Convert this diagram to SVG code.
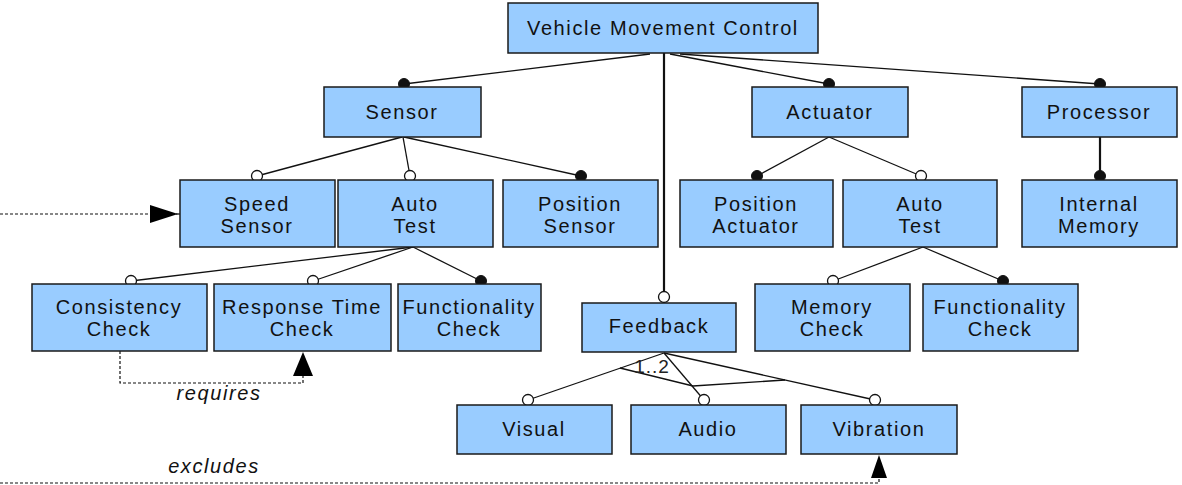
<svg xmlns="http://www.w3.org/2000/svg" width="1182" height="485" viewBox="0 0 1182 485">
<style>
.box{fill:#99ccff;stroke:#1a1a1a;stroke-width:1.5}
.t{font-family:"Liberation Sans",Arial,sans-serif;font-size:20px;letter-spacing:1.6px;fill:#111;text-anchor:middle}
.ln{stroke:#111;stroke-width:1.3;fill:none}
.thick{stroke:#111;stroke-width:2.2;fill:none}
.dash{stroke:#111;stroke-width:1.2;fill:none;stroke-dasharray:3,2}
.open{fill:#fff;stroke:#111;stroke-width:1.3}
.fill{fill:#111;stroke:#111;stroke-width:1}
.lbl{font-family:"Liberation Sans",Arial,sans-serif;font-size:20px;font-style:italic;fill:#111;text-anchor:middle;letter-spacing:1.6px}
.card{font-family:"Liberation Sans",Arial,sans-serif;font-size:19px;fill:#222;text-anchor:middle;letter-spacing:1px}
</style>
<rect width="1182" height="485" fill="#fff"/>
<g id="connectors">
<line class="ln" x1="650" y1="54" x2="404" y2="84"/>
<line class="ln" x1="670" y1="54" x2="829" y2="84"/>
<line class="ln" x1="680" y1="54" x2="1100" y2="84"/>
<line class="thick" x1="664" y1="53" x2="664" y2="296"/>
<line class="ln" x1="402" y1="137" x2="257" y2="176"/>
<line class="ln" x1="403" y1="137" x2="410" y2="176"/>
<line class="ln" x1="404" y1="137" x2="581" y2="176"/>
<line class="ln" x1="413" y1="247" x2="131" y2="281"/>
<line class="ln" x1="413" y1="247" x2="313" y2="281"/>
<line class="ln" x1="413" y1="247" x2="481" y2="281"/>
<line class="ln" x1="829" y1="137" x2="757" y2="176"/>
<line class="ln" x1="829" y1="137" x2="921" y2="176"/>
<line class="thick" x1="1100" y1="137" x2="1100" y2="176"/>
<line class="ln" x1="923" y1="247" x2="833" y2="281"/>
<line class="ln" x1="923" y1="247" x2="1003" y2="281"/>
<line class="ln" x1="664" y1="353" x2="528" y2="400"/>
<line class="ln" x1="664" y1="353" x2="704" y2="400"/>
<line class="ln" x1="664" y1="353" x2="875" y2="400"/>
<polyline class="ln" points="620,368 693,386 785,380"/>
<text class="card" x="652" y="373">1..2</text>
<circle class="fill" cx="404" cy="84" r="5.5"/>
<circle class="fill" cx="829" cy="84" r="5.5"/>
<circle class="fill" cx="1100" cy="84" r="5.5"/>
<circle class="open" cx="664" cy="297" r="5.5"/>
<circle class="open" cx="257" cy="176" r="5.5"/>
<circle class="open" cx="410" cy="176" r="5.5"/>
<circle class="fill" cx="581" cy="176" r="5.5"/>
<circle class="open" cx="131" cy="281" r="5.5"/>
<circle class="open" cx="313" cy="281" r="5.5"/>
<circle class="fill" cx="481" cy="281" r="5.5"/>
<circle class="fill" cx="757" cy="176" r="5.5"/>
<circle class="open" cx="921" cy="176" r="5.5"/>
<circle class="fill" cx="1100" cy="176" r="5.5"/>
<circle class="open" cx="833" cy="281" r="5.5"/>
<circle class="fill" cx="1003" cy="281" r="5.5"/>
<circle class="open" cx="528" cy="400" r="5.5"/>
<circle class="open" cx="704" cy="400" r="5.5"/>
<circle class="open" cx="875" cy="400" r="5.5"/>
<path class="dash" d="M0,214 H152"/>
<line class="ln" x1="176" y1="214" x2="180" y2="214"/>
<polygon fill="#000" points="150,205 150,223 178,214"/>
<path class="dash" d="M120,351 V383 H303 V375"/>
<polygon fill="#000" points="303,352 293,376 313,376"/>
<text class="lbl" x="219" y="400">requires</text>
<path class="dash" d="M0,483 H879 V476"/>
<polygon fill="#000" points="879,455 871,478 887,478"/>
<text class="lbl" x="214" y="473">excludes</text>
</g>
<g id="vmc"><rect class="box" x="508" y="3" width="310" height="50"/><text class="t" x="663" y="35">Vehicle Movement Control</text></g>
<g id="sensor"><rect class="box" x="324" y="87" width="157" height="50"/><text class="t" x="402" y="119">Sensor</text></g>
<g id="actuator"><rect class="box" x="752" y="87" width="156" height="50"/><text class="t" x="830" y="119">Actuator</text></g>
<g id="processor"><rect class="box" x="1022" y="87" width="155" height="50"/><text class="t" x="1099" y="119">Processor</text></g>
<g id="speed-sensor"><rect class="box" x="180" y="180" width="155" height="67"/><text class="t" x="257" y="211">Speed</text><text class="t" x="257" y="233">Sensor</text></g>
<g id="auto-test-sensor"><rect class="box" x="338" y="180" width="155" height="67"/><text class="t" x="415" y="211">Auto</text><text class="t" x="415" y="233">Test</text></g>
<g id="position-sensor"><rect class="box" x="503" y="180" width="155" height="67"/><text class="t" x="580" y="211">Position</text><text class="t" x="580" y="233">Sensor</text></g>
<g id="position-actuator"><rect class="box" x="680" y="180" width="153" height="67"/><text class="t" x="756" y="211">Position</text><text class="t" x="756" y="233">Actuator</text></g>
<g id="auto-test-actuator"><rect class="box" x="843" y="180" width="154" height="67"/><text class="t" x="920" y="211">Auto</text><text class="t" x="920" y="233">Test</text></g>
<g id="internal-memory"><rect class="box" x="1022" y="180" width="155" height="67"/><text class="t" x="1099" y="211">Internal</text><text class="t" x="1099" y="233">Memory</text></g>
<g id="consistency-check"><rect class="box" x="32" y="284" width="175" height="67"/><text class="t" x="119" y="314">Consistency</text><text class="t" x="119" y="336">Check</text></g>
<g id="response-time-check"><rect class="box" x="214" y="284" width="177" height="67"/><text class="t" x="302" y="314">Response Time</text><text class="t" x="302" y="336">Check</text></g>
<g id="functionality-check-sensor"><rect class="box" x="398" y="284" width="143" height="67"/><text class="t" x="469" y="314">Functionality</text><text class="t" x="469" y="336">Check</text></g>
<g id="feedback"><rect class="box" x="582" y="303" width="154" height="49"/><text class="t" x="659" y="333">Feedback</text></g>
<g id="memory-check"><rect class="box" x="755" y="284" width="155" height="67"/><text class="t" x="832" y="314">Memory</text><text class="t" x="832" y="336">Check</text></g>
<g id="functionality-check-actuator"><rect class="box" x="923" y="284" width="155" height="67"/><text class="t" x="1000" y="314">Functionality</text><text class="t" x="1000" y="336">Check</text></g>
<g id="visual"><rect class="box" x="457" y="405" width="155" height="49"/><text class="t" x="534" y="436">Visual</text></g>
<g id="audio"><rect class="box" x="631" y="405" width="155" height="49"/><text class="t" x="708" y="436">Audio</text></g>
<g id="vibration"><rect class="box" x="801" y="405" width="156" height="49"/><text class="t" x="879" y="436">Vibration</text></g>
</svg>
